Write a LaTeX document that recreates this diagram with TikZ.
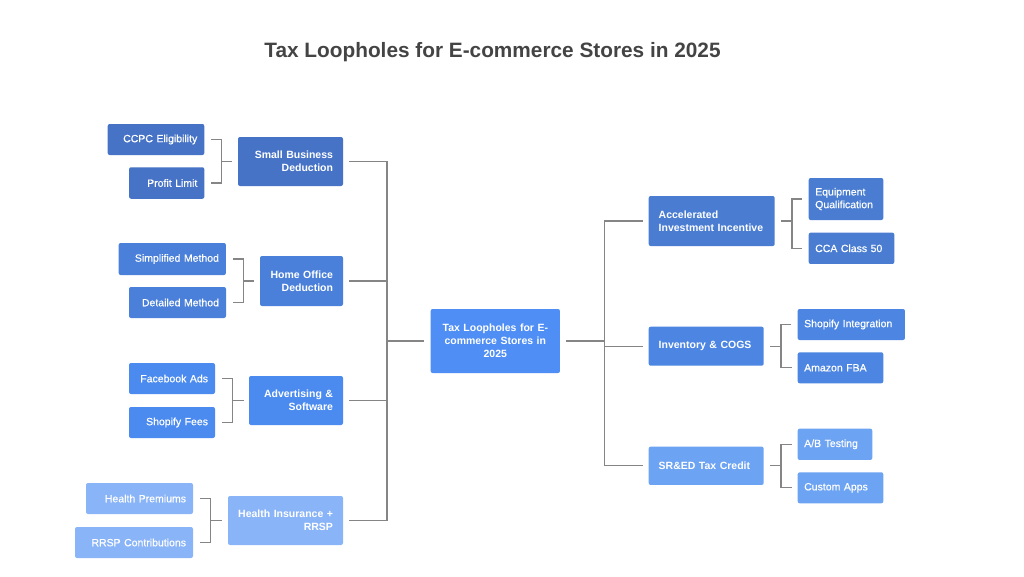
\documentclass[tikz,border=0pt]{standalone}
\usepackage{fontspec}
\setmainfont{Liberation Sans}
\newfontfamily\medfont[FakeBold=0.4]{Liberation Sans}
\definecolor{cA}{HTML}{4673C6}
\definecolor{cB}{HTML}{4A80DA}
\definecolor{cC}{HTML}{4B8BF0}
\definecolor{cD}{HTML}{8AB4F8}
\definecolor{cM}{HTML}{4F8EF5}
\definecolor{rA}{HTML}{4A7DD2}
\definecolor{rB}{HTML}{4C86E2}
\definecolor{rC}{HTML}{6DA3F3}
\definecolor{lineC}{HTML}{858585}
\definecolor{titleC}{HTML}{444444}
\tikzset{
  boxbase/.style={rounded corners=2pt, text=white, inner ysep=0pt},
  leafL/.style={boxbase, font=\medfont\fontsize{10.5}{12.7}\selectfont, align=right},
  leafR/.style={boxbase, font=\medfont\fontsize{10.5}{12.7}\selectfont, align=left},
  parL/.style={boxbase, font=\bfseries\fontsize{10.5}{12.7}\selectfont, align=right},
  parR/.style={boxbase, font=\bfseries\fontsize{10.5}{12.7}\selectfont, align=left},
  conn/.style={draw=lineC, line width=1.3pt},
}
\newcommand{\bx}[9]{% style, name, cx, cy, w, h, color, pad, text
  \pgfmathsetmacro\bxtw{#5-2*#8}%
  \node[#1, fill=#7, minimum width=#5pt, minimum height=#6pt, inner xsep=#8pt, text width=\bxtw pt] (#2) at (#3,#4) {#9};}
\begin{document}
\begin{tikzpicture}[x=1pt,y=-1pt]
\useasboundingbox[fill=white] (0,0) rectangle (1024,576);
\node[font=\bfseries\fontsize{20.8}{25}\selectfont, text=titleC] (title) at (492.5,52) {Tax Loopholes for E-commerce Stores in 2025};

% left
\bx{leafL}{ccpc}{156}{139.5}{96.6}{31}{cA}{7}{CCPC Eligibility}
\bx{leafL}{profit}{166.7}{183}{75.3}{31.5}{cA}{7}{Profit Limit}
\bx{parL}{sbd}{290.5}{161.5}{105}{49}{cA}{10}{Small Business\\Deduction}

\bx{leafL}{simp}{172.3}{259}{107.3}{32}{cB}{7}{Simplified Method}
\bx{leafL}{det}{177.5}{302.5}{97}{31}{cB}{7}{Detailed Method}
\bx{parL}{hod}{301.5}{281}{83}{50}{cB}{10}{Home Office\\Deduction}

\bx{leafL}{fb}{172}{378.5}{86}{31}{cC}{7}{Facebook Ads}
\bx{leafL}{sf}{172}{422.5}{86}{31}{cC}{7}{Shopify Fees}
\bx{parL}{adv}{296}{400.5}{94}{49}{cC}{10}{Advertising \&\\Software}

\bx{leafL}{hp}{139.5}{498.5}{107}{31}{cD}{7}{Health Premiums}
\bx{leafL}{rrsp}{134}{542.5}{118}{31}{cD}{7}{RRSP Contributions}
\bx{parL}{hi}{285.5}{520.5}{115}{49}{cD}{10}{Health Insurance +\\RRSP}

% center
\node[boxbase, fill=cM, font=\bfseries\fontsize{10.5}{13}\selectfont, align=center, minimum width=129.3pt, minimum height=64pt, text width=115pt, inner xsep=7pt] (center) at (495.3,341) {Tax Loopholes for E-\\commerce Stores in\\2025};

% right
\bx{parR}{aii}{711.7}{221}{126}{50}{rA}{10}{Accelerated\\Investment Incentive}
\bx{leafR}{eq}{846}{199}{74.6}{42}{rA}{6.5}{Equipment\\Qualification}
\bx{leafR}{cca}{851.5}{248.3}{85.6}{31.3}{rA}{6.5}{CCA Class 50}

\bx{parR}{inv}{706.2}{346.2}{115}{39}{rB}{10}{Inventory \& COGS}
\bx{leafR}{shi}{851.3}{324.5}{107.3}{31}{rB}{6.5}{Shopify Integration}
\bx{leafR}{amz}{840.5}{367.8}{85.6}{31}{rB}{6.5}{Amazon FBA}

\bx{parR}{sred}{706.2}{465.8}{115}{38.3}{rC}{10}{SR\&ED Tax Credit}
\bx{leafR}{ab}{835}{444.3}{74.6}{31.3}{rC}{6.5}{A/B Testing}
\bx{leafR}{ca}{840.5}{487.8}{85.6}{31}{rC}{6.5}{Custom Apps}

% brackets left
\draw[conn] ([xshift=-6pt]sbd.west) -- ++(-10.3,0) coordinate (m1);
\draw[conn] ([xshift=6.4pt]ccpc.east) -| (m1) |- ([xshift=6.4pt]profit.east);
\draw[conn] ([xshift=-6pt]hod.west) -- ++(-10.6,0) coordinate (m2);
\draw[conn] ([xshift=6.6pt]simp.east) -| (m2) |- ([xshift=6.6pt]det.east);
\draw[conn] ([xshift=-5pt]adv.west) -- ++(-11,0) coordinate (m3);
\draw[conn] ([xshift=7pt]fb.east) -| (m3) |- ([xshift=7pt]sf.east);
\draw[conn] ([xshift=-6pt]hi.west) -- ++(-11,0) coordinate (m4);
\draw[conn] ([xshift=7pt]hp.east) -| (m4) |- ([xshift=7pt]rrsp.east);

% left trunk
\coordinate (tl) at (387,341);
\draw[conn] ([xshift=6pt]sbd.east) -| (tl) |- ([xshift=6pt]hi.east);
\draw[conn] ([xshift=6pt]hod.east) -- (hod.east -| tl);
\draw[conn] ([xshift=6pt]adv.east) -- (adv.east -| tl);
\draw[conn] (tl) -- ([xshift=-6.7pt]center.west);

% right trunk
\coordinate (tr) at (604.3,341);
\draw[conn] ([xshift=6.3pt]center.east) -- (tr);
\draw[conn] ([xshift=-6pt]aii.west) -| (tr) |- ([xshift=-6pt]sred.west);
\draw[conn] ([xshift=-6pt]inv.west) -- (inv.west -| tr);

% brackets right
\draw[conn] ([xshift=6.3pt]aii.east) -- ++(10.7,0) coordinate (r1);
\draw[conn] ([xshift=-6.4pt]eq.west) -| (r1) |- ([xshift=-6.4pt]cca.west);
\draw[conn] ([xshift=6.3pt]inv.east) -- ++(10.7,0) coordinate (r2);
\draw[conn] ([xshift=-6pt]shi.west) -| (r2) |- ([xshift=-6pt]amz.west);
\draw[conn] ([xshift=6.3pt]sred.east) -- ++(10.7,0) coordinate (r3);
\draw[conn] ([xshift=-6pt]ab.west) -| (r3) |- ([xshift=-6pt]ca.west);
\end{tikzpicture}
\end{document}
